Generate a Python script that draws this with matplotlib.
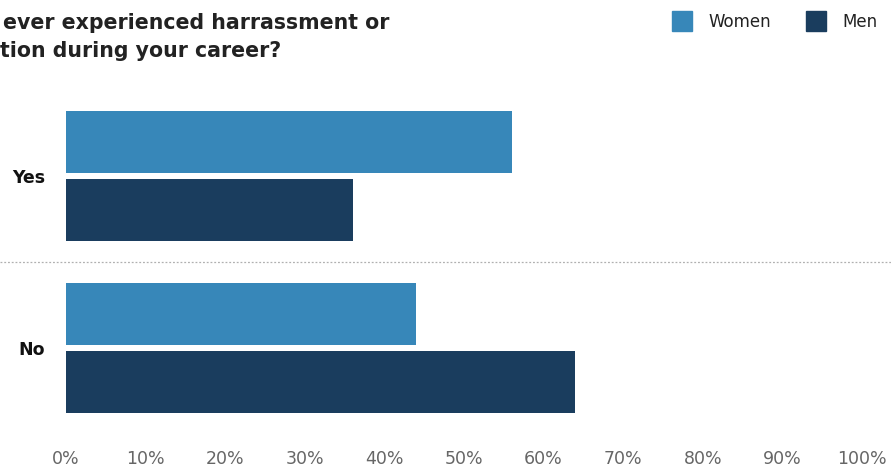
import matplotlib
matplotlib.use("Agg")
import matplotlib.pyplot as plt
from matplotlib.lines import Line2D
from matplotlib.transforms import blended_transform_factory
import numpy as np

categories = ["Yes", "No"]
women = [56, 44]
men = [36, 64]
series_names = ["Women", "Men"]
xticks = [0, 10, 20, 30, 40, 50, 60, 70, 80, 90, 100]
xtick_labels = [f"{v}%" for v in xticks]
title_lines = ["ever experienced harrassment or", "tion during your career?"]

c_women = "#3787b9"
c_men = "#1a3d5e"

W, H = 891, 470
fig = plt.figure(figsize=(W / 100, H / 100), dpi=100)
fig.patch.set_facecolor("white")

ax_left, ax_right = 66 / W, 862 / W
ax_top_px, ax_bot_px = 80, 440
ax = fig.add_axes([ax_left, 1 - ax_bot_px / H, ax_right - ax_left, (ax_bot_px - ax_top_px) / H])

y = np.arange(len(categories))
off = 34 / 172
bh = 62 / 172
ax.barh(y - off, women, height=bh, color=c_women, label=series_names[0])
ax.barh(y + off, men, height=bh, color=c_men, label=series_names[1])

ax.set_xlim(0, 100)
ax.set_ylim((ax_bot_px - 176) / 172, (ax_top_px - 176) / 172)
ax.set_xticks(xticks)
ax.set_xticklabels(xtick_labels, fontsize=12.5, color="#666666")
ax.set_yticks(y)
ax.set_yticklabels(categories, fontsize=12.5, fontweight="bold", color="#111111")
ax.tick_params(axis="x", length=0, pad=7)
ax.tick_params(axis="y", length=0, pad=15)
for s in ax.spines.values():
    s.set_visible(False)
ax.set_facecolor("none")

# dotted separator across full width
tr = blended_transform_factory(fig.transFigure, ax.transData)
sep = Line2D([0, 1], [0.5, 0.5], transform=tr, color="#b0b0b0", lw=0.9,
             linestyle=(0, (1.5, 1.5)))
fig.add_artist(sep)

# title (cropped in the original)
fig.text(3 / W, 1 - 29 / H, title_lines[0], fontsize=14.8, fontweight="bold",
         color="#222222", va="baseline", ha="left")
fig.text(0 / W, 1 - 57 / H, title_lines[1], fontsize=14.8, fontweight="bold",
         color="#222222", va="baseline", ha="left")

# legend
handles = [Line2D([], [], marker="s", linestyle="none", markersize=15,
                  markerfacecolor=c, markeredgecolor=c) for c in (c_women, c_men)]
fig.legend(handles, series_names, loc="upper right", bbox_to_anchor=(1.0, 1.0),
           ncol=2, frameon=False, fontsize=12, handletextpad=0.6,
           columnspacing=1.7, borderaxespad=0.4, labelcolor="#222222")

fig.savefig("out.png", dpi=100)
